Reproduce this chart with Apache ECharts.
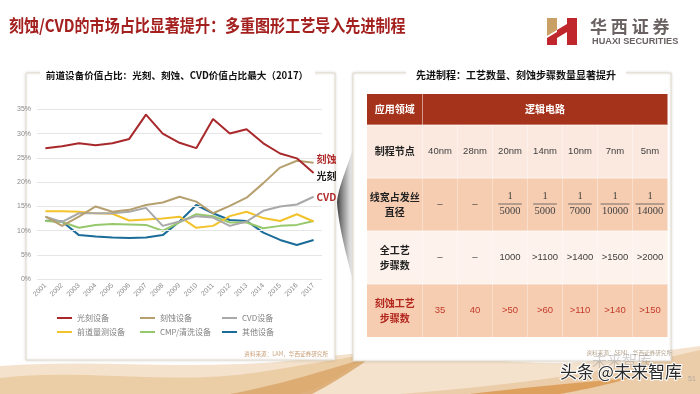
<!DOCTYPE html>
<html>
<head>
<meta charset="utf-8">
<script src="https://cdn.jsdelivr.net/npm/echarts@6/dist/echarts.min.js"></script>
<style>
html,body{margin:0;padding:0;background:#fff;}
#main{width:700px;height:394px;}
</style>
</head>
<body>
<div id="main"></div>
<script>
// ---------- data ----------
const years = ['2001','2002','2003','2004','2005','2006','2007','2008','2009','2010','2011','2012','2013','2014','2015','2016','2017'];
const lithoShare  = [27, 27.4, 28, 27.6, 28, 28.9, 33.9, 30, 28.1, 27, 33, 30, 30.9, 28, 25.9, 24.9, 21.9];
const etchShare   = [12.9, 11, 12.9, 15, 13.9, 14.3, 15.3, 15.8, 17, 16, 13.6, 15.1, 16.8, 19.8, 23, 24.4, 24];
const cvdShare    = [12.9, 11.8, 13.6, 13.6, 13.6, 13.9, 14.7, 11, 11.9, 13, 12.7, 11, 11.9, 14.1, 15, 15.4, 17];
const metroShare  = [14, 14, 13.9, 13.6, 13.5, 12.1, 12.3, 12.5, 12.9, 10.6, 11, 13, 13.9, 12.6, 12, 13.4, 11.9];
const cmpShare    = [12, 11.8, 10.6, 11.2, 11.4, 11.3, 11.2, 10, 11.7, 13.4, 13, 11.7, 11.7, 10.5, 11, 11.2, 12];
const otherShare  = [12.07, 11.9, 9.1, 8.8, 8.6, 8.5, 8.6, 9.1, 11.9, 15.3, 13.6, 12.2, 12, 9.6, 8.1, 7.06, 8.1];
const seriesNames = ['光刻设备','刻蚀设备','CVD设备','前道量测设备','CMP/清洗设备','其他设备'];
const yTicks = [0, 5, 10, 15, 20, 25, 30, 35];

const tableHeader = ['应用领域', '逻辑电路'];
const rowLabels = ['制程节点', '线宽占发丝\n直径', '全工艺\n步骤数', '刻蚀工艺\n步骤数'];
const processNodes = ['40nm','28nm','20nm','14nm','10nm','7nm','5nm'];
const lineWidthRatio = ['–','–','1/5000','1/5000','1/7000','1/10000','1/14000'];
const totalSteps = ['–','–','1000','>1100','>1400','>1500','>2000'];
const etchSteps = ['35','40','>50','>60','>110','>140','>150'];

// ---------- styles ----------
const colors = ['#a8282b', '#b6a06f', '#a9a9a9', '#f3c32c', '#97c96c', '#1c6c99'];
const CJK = '"Noto Sans CJK SC", sans-serif';
const SANS = '"Liberation Sans", Arial, sans-serif';
const SERIF = '"Liberation Serif", "Times New Roman", serif';

const chart = echarts.init(document.getElementById('main'), null, {renderer: 'canvas'});

// sample a chain of cubic bezier segments into polygon points
function bez(start, segs, tail) {
  const pts = [start];
  let p0 = start;
  segs.forEach(s => {
    const [c1, c2, p3] = s;
    for (let k = 1; k <= 12; k++) {
      const t = k / 12, u = 1 - t;
      pts.push([
        u*u*u*p0[0] + 3*u*u*t*c1[0] + 3*u*t*t*c2[0] + t*t*t*p3[0],
        u*u*u*p0[1] + 3*u*u*t*c1[1] + 3*u*t*t*c2[1] + t*t*t*p3[1]
      ]);
    }
    p0 = p3;
  });
  return pts.concat(tail || []);
}

const g = [];
// background decoration (bottom waves)
g.push({type:'polygon', z:1, shape:{points:bez([0,366], [[[100,358],[210,374],[330,356]], [[420,344],[520,372],[600,360]], [[650,352],[680,349],[700,346]]], [[700,394],[0,394]])}, style:{fill:'#f4e2cc'}});
g.push({type:'polygon', z:1, shape:{points:bez([0,378], [[[80,368],[180,386],[260,372]], [[300,366],[330,360],[365,355]], [[350,372],[320,388],[300,394]]], [[0,394]])}, style:{fill:'#ebcda6'}});
g.push({type:'polygon', z:1, shape:{points:bez([230,394], [[[285,384],[330,368],[372,357]], [[345,376],[322,389],[312,394]]])}, style:{fill:'#d8a466', opacity:0.8}});
g.push({type:'polygon', z:1, shape:{points:bez([400,394], [[[500,386],[590,376],[700,350]]], [[700,394]])}, style:{fill:'#e8c8a0', opacity:0.8}});
g.push({type:'polygon', z:1, shape:{points:bez([470,394], [[[530,387],[575,383],[630,378]], [[600,387],[570,392],[560,394]]])}, style:{fill:'#dc9850', opacity:0.85}});

// main title
g.push({type:'text', z:10, x:9, y:26, scaleX:0.885, style:{text:'刻蚀/CVD的市场占比显著提升：多重图形工艺导入先进制程', fill:'#a3201f', font:'bold 17px ' + CJK, verticalAlign:'middle', align:'left'}});
// logo
g.push({type:'polygon', z:10, shape:{points:[[547,18],[557,18],[557,30],[547,36]]}, style:{fill:'#c9a065'}});
g.push({type:'polygon', z:10, shape:{points:[[547,38],[557,32],[557,45],[547,45]]}, style:{fill:'#c0272d'}});
g.push({type:'polygon', z:10, shape:{points:[[557,30],[567,24],[567,32],[557,38]]}, style:{fill:'#c0272d'}});
g.push({type:'polygon', z:10, shape:{points:[[567,18],[577,18],[577,45],[567,45]]}, style:{fill:'#c0272d'}});
g.push({type:'text', z:10, x:590, y:27, style:{text:'华 西 证 券', fill:'#6a6262', font:'bold 17px ' + CJK, verticalAlign:'middle'}});
g.push({type:'text', z:10, x:592, y:41, style:{text:'HUAXI SECURITIES', fill:'#6a6262', font:'600 9.2px ' + SANS, verticalAlign:'middle'}});

// separator shadow between panels
g.push({type:'polygon', z:2, shape:{points:bez([356,140], [[[347,168],[338,188],[337,202]], [[338,222],[346,256],[356,292]]])},
  style:{fill:{type:'linear', x:0, y:0, x2:1, y2:0, colorStops:[{offset:0,color:'rgba(40,40,40,0.9)'},{offset:0.5,color:'rgba(110,110,110,0.5)'},{offset:1,color:'rgba(230,230,230,0.05)'}]}}});

// left panel
g.push({type:'rect', z:3, shape:{x:26, y:73, width:309, height:287}, style:{fill:'#fff', stroke:'#e2dbcc', lineWidth:1, shadowBlur:3, shadowColor:'rgba(0,0,0,0.12)'}});
g.push({type:'rect', z:4, shape:{x:40, y:68, width:275, height:12}, style:{fill:'#fff'}});
g.push({type:'text', z:5, x:177, y:75.5, style:{text:'前道设备价值占比：光刻、刻蚀、CVD价值占比最大（2017）', fill:'#111', font:'bold 9.6px ' + CJK, align:'center', verticalAlign:'middle'}});
g.push({type:'text', z:5, x:328, y:354, style:{text:'资料来源：LAM，华西证券研究所', fill:'#c9a27c', font:'5.6px ' + CJK, align:'right', verticalAlign:'middle'}});

// right panel
g.push({type:'rect', z:3, shape:{x:353, y:73, width:318, height:288}, style:{fill:'#fff', stroke:'#e2dbcc', lineWidth:1, shadowBlur:3, shadowColor:'rgba(0,0,0,0.12)'}});
g.push({type:'rect', z:4, shape:{x:406, y:68, width:220, height:12}, style:{fill:'#fff'}});
g.push({type:'text', z:5, x:516, y:75.5, style:{text:'先进制程：工艺数量、刻蚀步骤数量显著提升', fill:'#111', font:'bold 10px ' + CJK, align:'center', verticalAlign:'middle'}});
g.push({type:'text', z:5, x:672, y:353, style:{text:'资料来源：SEMI，华西证券研究所', fill:'#b9a894', font:'5.6px ' + CJK, align:'right', verticalAlign:'middle'}});

// table
const tX = 367, tY = 94, headH = 31, rowH = 53, firstW = 55.5, colW = 35;
const tW = firstW + colW * processNodes.length;
const rowFills = ['#fbe9df', '#f7cdb2', '#fdf2ec', '#f7cdb2'];
g.push({type:'rect', z:5, shape:{x:tX, y:tY, width:tW, height:headH}, style:{fill:'#a5321b'}});
g.push({type:'line', z:6, shape:{x1:tX+firstW, y1:tY, x2:tX+firstW, y2:tY+headH}, style:{stroke:'rgba(255,255,255,0.5)', lineWidth:1}});
g.push({type:'text', z:6, x:tX+firstW/2, y:tY+headH/2, style:{text:tableHeader[0], fill:'#fff', font:'bold 10px ' + CJK, align:'center', verticalAlign:'middle'}});
g.push({type:'text', z:6, x:tX+firstW+colW*processNodes.length/2, y:tY+headH/2, style:{text:tableHeader[1], fill:'#fff', font:'bold 10px ' + CJK, align:'center', verticalAlign:'middle'}});
const rowsData = [processNodes, lineWidthRatio, totalSteps, etchSteps];
rowsData.forEach((row, r) => {
  const y0 = tY + headH + r * rowH;
  const cy = y0 + rowH / 2;
  g.push({type:'rect', z:5, shape:{x:tX, y:y0, width:tW, height:rowH}, style:{fill:rowFills[r]}});
  g.push({type:'line', z:6, shape:{x1:tX, y1:y0, x2:tX+tW, y2:y0}, style:{stroke:'rgba(255,255,255,0.7)', lineWidth:1}});
  for (let c = 0; c < row.length; c++) {
    const lx = tX + firstW + c * colW;
    g.push({type:'line', z:6, shape:{x1:lx, y1:y0, x2:lx, y2:y0+rowH}, style:{stroke:'rgba(255,255,255,0.35)', lineWidth:1}});
  }
  const isRed = r === 3;
  g.push({type:'text', z:7, x:tX+firstW/2, y:cy, style:{text:rowLabels[r], fill:isRed ? '#b3261e' : '#222', font:'bold 10px ' + CJK, align:'center', verticalAlign:'middle', lineHeight:15}});
  row.forEach((v, c) => {
    const cx = tX + firstW + c * colW + colW / 2;
    if (v.indexOf('/') > 0) {
      const parts = v.split('/');
      const w = parts[1].length * 5.4 + 2;
      g.push({type:'text', z:7, x:cx, y:cy-8, style:{text:parts[0], fill:'#404040', font:'10.5px ' + SERIF, align:'center', verticalAlign:'middle'}});
      g.push({type:'line', z:7, shape:{x1:cx-w/2, y1:cy-0.5, x2:cx+w/2, y2:cy-0.5}, style:{stroke:'#505050', lineWidth:0.8}});
      g.push({type:'text', z:7, x:cx, y:cy+7, style:{text:parts[1], fill:'#404040', font:'10.5px ' + SERIF, align:'center', verticalAlign:'middle'}});
    } else {
      g.push({type:'text', z:7, x:cx, y:cy, style:{text:v, fill:isRed ? '#c23b2b' : '#404040', font:'9.5px ' + SANS, align:'center', verticalAlign:'middle'}});
    }
  });
});

// watermark
g.push({type:'text', z:20, x:622, y:360, style:{text:'未来智库', fill:'rgba(130,130,130,0.35)', font:'15px ' + CJK, align:'center', verticalAlign:'middle'}});
g.push({type:'text', z:21, x:560, y:372, style:{text:'头条 @未来智库', fill:'#2a2a2a', stroke:'#fff', lineWidth:2, font:'17px ' + CJK, verticalAlign:'middle'}});
g.push({type:'text', z:21, x:688, y:379, style:{text:'51', fill:'#b0a8a0', font:'7px ' + SANS, verticalAlign:'middle'}});

// legends
const legendPos = [[57,314],[140,314],[222,314],[57,328],[140,328],[222,328]];
const legends = seriesNames.map((n, i) => ({
  data:[n], left:legendPos[i][0], top:legendPos[i][1], padding:0, icon:'rect', itemWidth:15, itemHeight:2, itemGap:4,
  selectedMode:false, textStyle:{fontSize:8, color:'#808080', fontFamily:CJK}
}));

const dataArr = [lithoShare, etchShare, cvdShare, metroShare, cmpShare, otherShare];
const endLabels = {
  0: {text:'光刻', color:'#1a1a1a', offset:[0,3]},
  1: {text:'刻蚀', color:'#b02a2a', offset:[0,-4]},
  2: {text:'CVD', color:'#b02a2a', offset:[0,0]}
};
const series = seriesNames.map((n, i) => {
  const s = {name:n, type:'line', data:dataArr[i], symbol:'none', z: 10 - i,
    lineStyle:{width:2, color:colors[i]}, itemStyle:{color:colors[i]}};
  if (endLabels[i]) {
    s.endLabel = {show:true, formatter:endLabels[i].text, color:endLabels[i].color, fontSize:10, fontWeight:'bold', fontFamily:CJK, distance:3, offset:endLabels[i].offset};
  }
  return s;
});

chart.setOption({
  animation:false,
  backgroundColor:'#fff',
  grid:{left:37, top:109.3, width:285, height:170, containLabel:false, z:8},
  xAxis:{type:'category', data:years, boundaryGap:true, z:8,
    axisLine:{show:false}, axisTick:{show:false},
    axisLabel:{rotate:45, fontSize:7, color:'#8a8a8a', margin:5, interval:0, fontFamily:SANS}},
  yAxis:{type:'value', min:yTicks[0], max:yTicks[yTicks.length-1], interval:5, z:8,
    axisLine:{show:false}, axisTick:{show:false},
    splitLine:{lineStyle:{color:'#e6e6e6', width:1}},
    axisLabel:{formatter:'{value}%', fontSize:7, color:'#8a8a8a', margin:6, fontFamily:SANS}},
  legend:legends,
  series:series,
  graphic:{elements:g}
});
</script>
</body>
</html>
